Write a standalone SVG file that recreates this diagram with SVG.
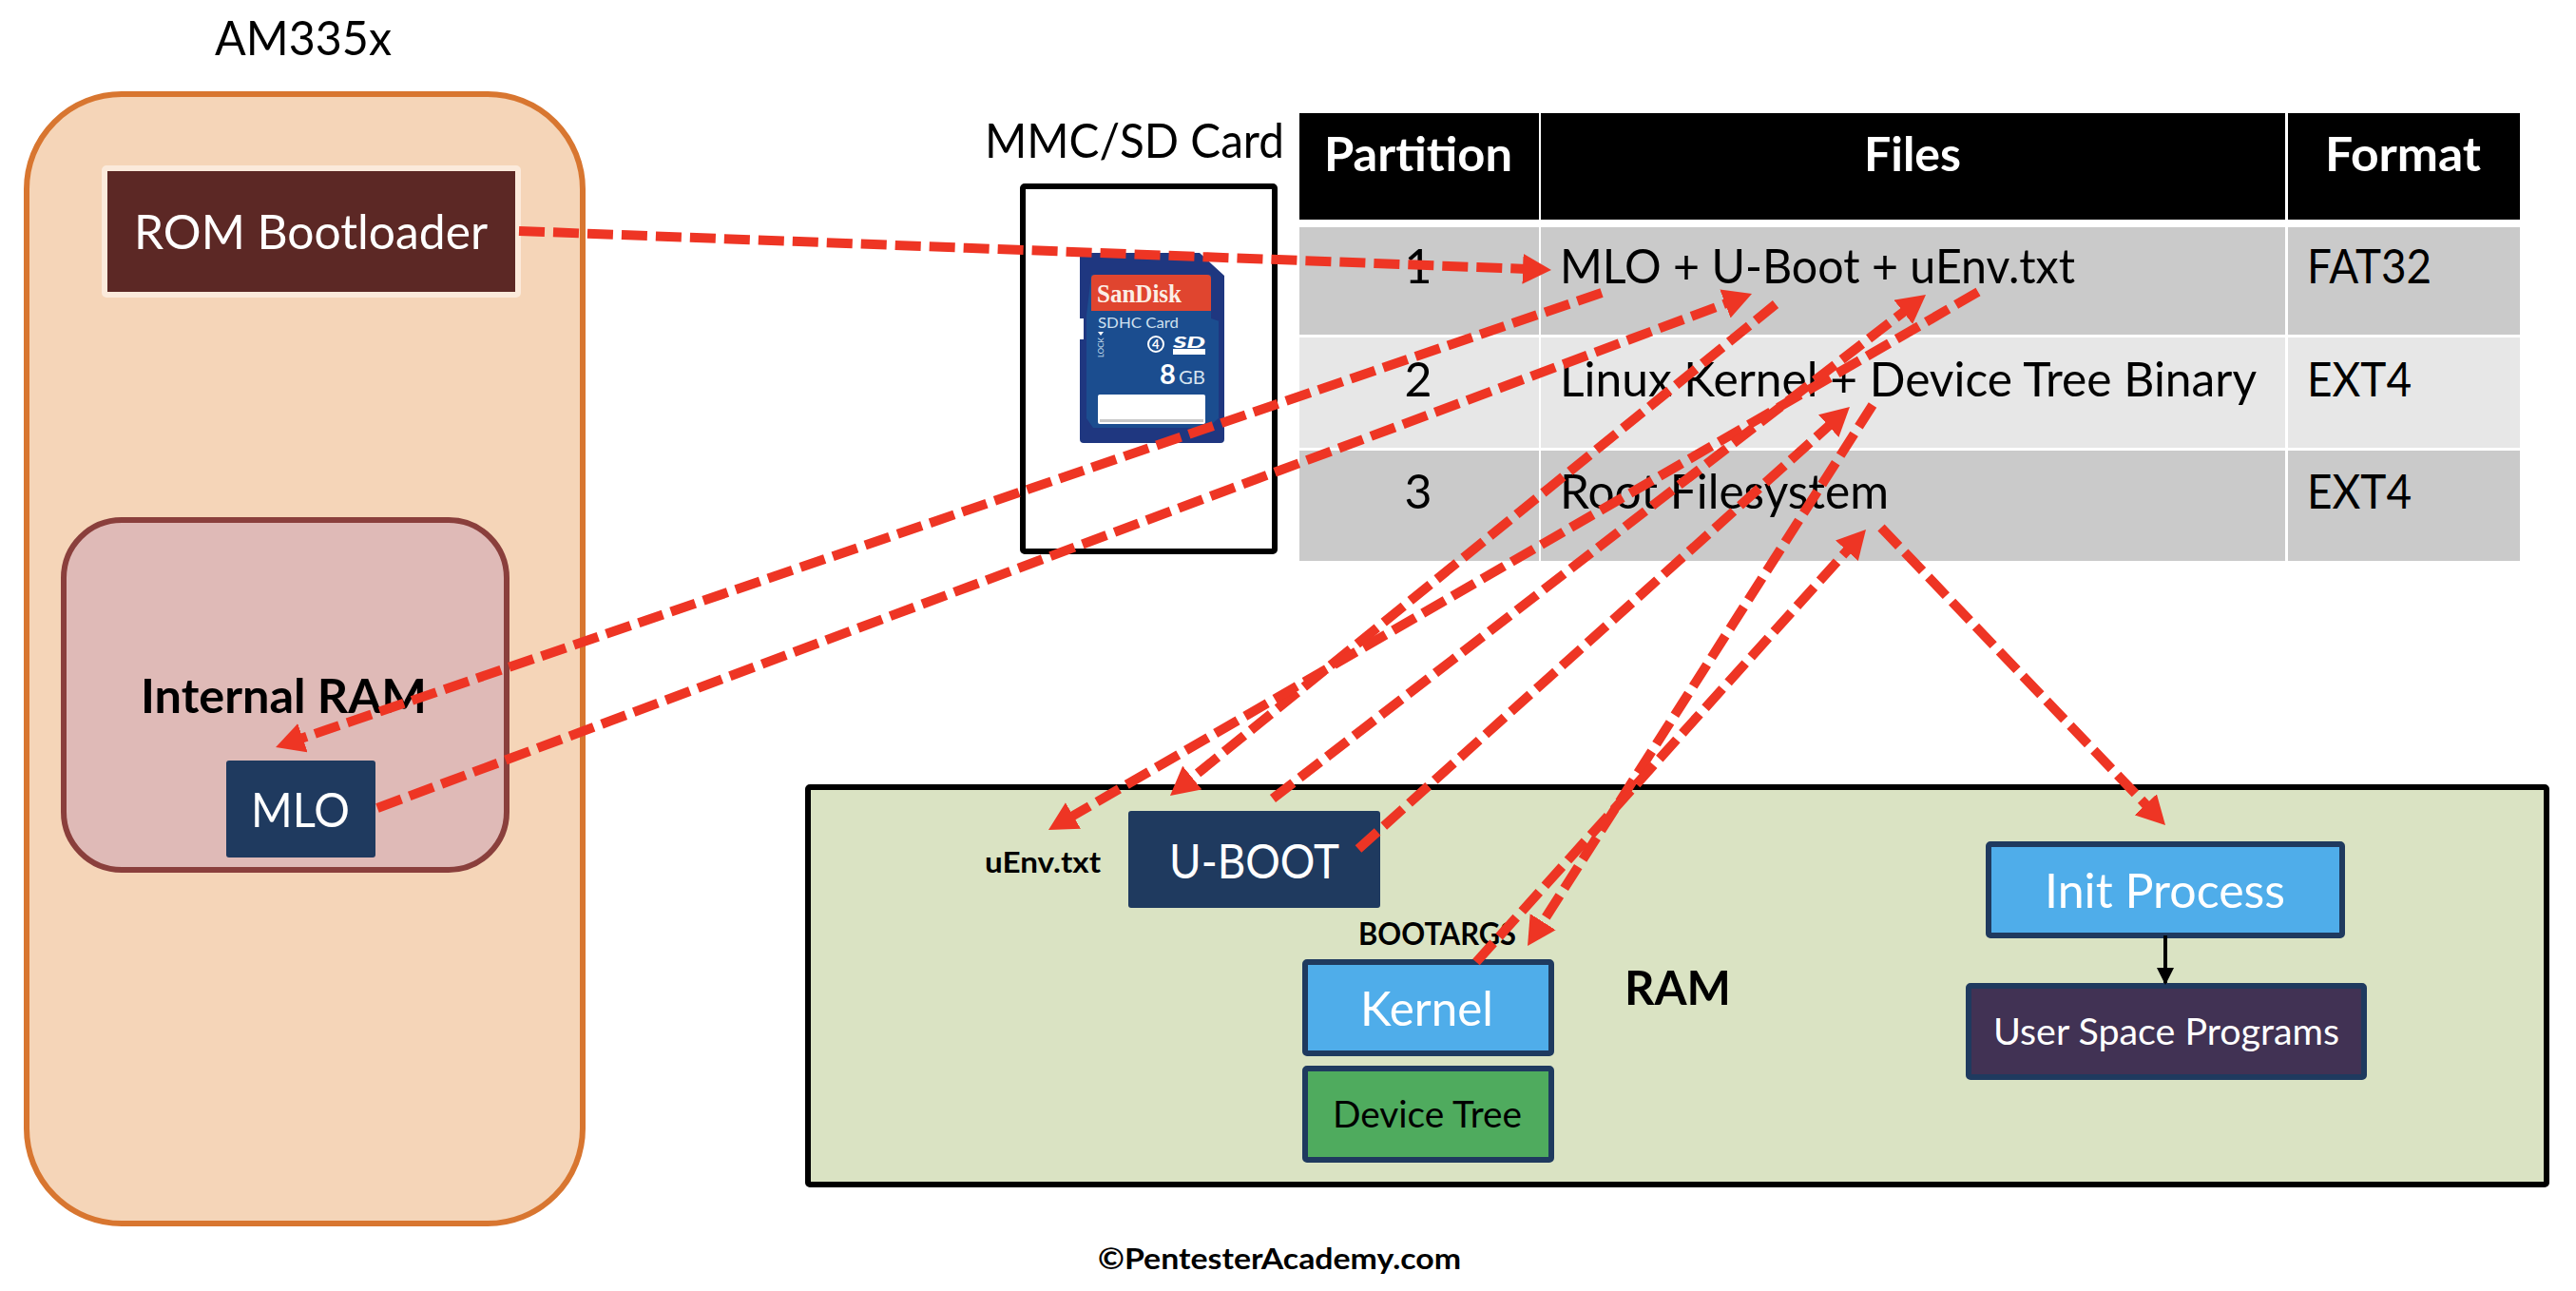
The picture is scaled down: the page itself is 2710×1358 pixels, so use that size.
<svg xmlns="http://www.w3.org/2000/svg" width="2710" height="1358" viewBox="0 0 2710 1358">
<style>
text{font-family:"Lato","Open Sans","Liberation Sans",sans-serif;font-size:50px;fill:#000}
.w{fill:#fff}
.b{font-weight:700}
.s37{font-size:38px}
.navy{fill:#1f3a5f}
.blue{fill:#4fadea;stroke:#1f3a5f;stroke-width:6}
.hd{fill:#000}
.r1{fill:#cacaca}
.r2{fill:#e7e7e7}
.red{fill:none;stroke:#ee3524;stroke-width:10;stroke-dasharray:27 9;marker-end:url(#ah)}
</style>
<defs>
<marker id="ah" markerUnits="userSpaceOnUse" markerWidth="30" markerHeight="32" viewBox="0 0 30 32" refX="10" refY="16" orient="auto"><path d="M0,0L30,16L0,32Z" fill="#ee3524"/></marker>
<marker id="bk" markerUnits="userSpaceOnUse" markerWidth="18" markerHeight="18" viewBox="0 0 18 18" refX="16" refY="9" orient="auto"><path d="M0,0L18,9L0,18Z" fill="#000"/></marker>
</defs>
<rect width="2710" height="1358" fill="#fff"/>

<g id="am335x">
<text x="226" y="58" textLength="186" lengthAdjust="spacingAndGlyphs">AM335x</text>
<rect x="28" y="99" width="585" height="1188" rx="100" ry="100" fill="#f5d5b8" stroke="#d87630" stroke-width="6"/>
</g>
<g id="rom-bootloader">
<rect x="110" y="177" width="435" height="133" rx="2" fill="#5c2825" stroke="#fbeadb" stroke-width="6"/>
<text class="w" x="141" y="262" textLength="372" lengthAdjust="spacingAndGlyphs">ROM Bootloader</text>
</g>
<g id="internal-ram">
<rect x="67" y="547" width="466" height="368" rx="61" ry="61" fill="#dfbab7" stroke="#8a3f3c" stroke-width="6"/>
<text class="b" x="148" y="750" textLength="301" lengthAdjust="spacingAndGlyphs">Internal RAM</text>
</g>
<g id="mlo">
<rect class="navy" x="238" y="800" width="157" height="102" rx="3"/>
<text class="w" x="264" y="870" textLength="104" lengthAdjust="spacingAndGlyphs">MLO</text>
</g>

<g id="sd-card">
<text x="1036" y="166" textLength="315" lengthAdjust="spacingAndGlyphs">MMC/SD Card</text>
<rect x="1076" y="196" width="265" height="384" rx="2" fill="#fff" stroke="#000" stroke-width="6"/>
<path d="M1136,268Q1136,266 1138,266H1262L1288,290V462Q1288,466 1284,466H1140Q1136,466 1136,462V357H1140V335H1136Z" fill="#1f3780"/>
<path d="M1148,289H1274V335L1283,338H1282V440L1270,450H1150L1143,440V332Z" fill="#1b4d8f"/>
<path d="M1148,293Q1148,289 1152,289H1270Q1274,289 1274,293V327H1148Z" fill="#e0452f"/>
<text x="1154" y="318" textLength="89" lengthAdjust="spacingAndGlyphs" style="font-family:'Liberation Serif',serif;font-size:27px;font-weight:700;fill:#fbeee6">SanDisk</text>
<text x="1155" y="345" textLength="85" lengthAdjust="spacingAndGlyphs" style="font-size:16px;fill:#cfe0ef">SDHC Card</text>
<path d="M1155,349H1161L1158,353Z" fill="#fff"/>
<text transform="translate(1161,376) rotate(-90)" style="font-size:8px;fill:#cfe0ef">LOCK</text>
<circle cx="1216" cy="362" r="8" fill="none" stroke="#fff" stroke-width="2"/>
<text x="1212" y="367" style="font-size:13px;font-weight:700;fill:#fff">4</text>
<text x="1234" y="366" textLength="34" lengthAdjust="spacingAndGlyphs" style="font-size:17px;font-weight:900;font-style:italic;fill:#fff">SD</text>
<rect x="1234" y="367" width="34" height="6" fill="#fff"/>
<text x="1220" y="404" style="font-size:29px;font-weight:700;fill:#fff">8</text>
<text x="1240" y="404" textLength="28" lengthAdjust="spacingAndGlyphs" style="font-size:20px;fill:#d5e3ef">GB</text>
<rect x="1155" y="415" width="113" height="31" rx="2" fill="#fff"/>
<rect x="1157" y="441" width="109" height="3" fill="#c8c8c8"/>
</g>

<g id="partition-table">
<rect class="hd" x="1367" y="119" width="252" height="112"/>
<rect class="hd" x="1621" y="119" width="783" height="112"/>
<rect class="hd" x="2407" y="119" width="244" height="112"/>
<rect class="r1" x="1367" y="239" width="252" height="113"/>
<rect class="r1" x="1621" y="239" width="783" height="113"/>
<rect class="r1" x="2407" y="239" width="244" height="113"/>
<rect class="r2" x="1367" y="355" width="252" height="116"/>
<rect class="r2" x="1621" y="355" width="783" height="116"/>
<rect class="r2" x="2407" y="355" width="244" height="116"/>
<rect class="r1" x="1367" y="474" width="252" height="116"/>
<rect class="r1" x="1621" y="474" width="783" height="116"/>
<rect class="r1" x="2407" y="474" width="244" height="116"/>
<text class="w b" x="1393" y="180" textLength="198" lengthAdjust="spacingAndGlyphs">Partition</text>
<text class="w b" x="1961" y="180" textLength="102" lengthAdjust="spacingAndGlyphs">Files</text>
<text class="w b" x="2446" y="180" textLength="164" lengthAdjust="spacingAndGlyphs">Format</text>
<text x="1492" y="298" text-anchor="middle">1</text>
<text x="1492" y="417" text-anchor="middle">2</text>
<text x="1492" y="535" text-anchor="middle">3</text>
<text x="1641" y="298" textLength="542" lengthAdjust="spacingAndGlyphs">MLO + U-Boot + uEnv.txt</text>
<text x="1641" y="417" textLength="733" lengthAdjust="spacingAndGlyphs">Linux Kernel + Device Tree Binary</text>
<text x="1641" y="535" textLength="346" lengthAdjust="spacingAndGlyphs">Root Filesystem</text>
<text x="2427" y="298" textLength="131" lengthAdjust="spacingAndGlyphs">FAT32</text>
<text x="2427" y="417" textLength="110" lengthAdjust="spacingAndGlyphs">EXT4</text>
<text x="2427" y="535" textLength="110" lengthAdjust="spacingAndGlyphs">EXT4</text>
</g>

<g id="ram">
<rect x="850" y="828" width="1829" height="418" rx="2" fill="#dae3c3" stroke="#000" stroke-width="6"/>
<text class="b" x="1709" y="1057" textLength="112" lengthAdjust="spacingAndGlyphs">RAM</text>
</g>
<g id="uenv"><text class="b" x="1036" y="918" textLength="122" lengthAdjust="spacingAndGlyphs" style="font-size:30px">uEnv.txt</text></g>
<g id="u-boot">
<rect class="navy" x="1187" y="853" width="265" height="102" rx="3"/>
<text class="w" x="1230" y="924" textLength="179" lengthAdjust="spacingAndGlyphs">U-BOOT</text>
</g>
<g id="bootargs"><text class="b" x="1429" y="994" textLength="166" lengthAdjust="spacingAndGlyphs" style="font-size:32px">BOOTARGS</text></g>
<g id="kernel">
<rect class="blue" x="1373" y="1012" width="259" height="96" rx="2"/>
<text class="w" x="1431" y="1079" textLength="140" lengthAdjust="spacingAndGlyphs">Kernel</text>
</g>
<g id="device-tree">
<rect x="1373" y="1124" width="259" height="96" rx="2" fill="#4fab5e" stroke="#1f3a5f" stroke-width="6"/>
<text class="s37" x="1402" y="1186" textLength="199" lengthAdjust="spacingAndGlyphs">Device Tree</text>
</g>
<g id="init-process">
<rect class="blue" x="2092" y="888" width="372" height="96" rx="2"/>
<text class="w" x="2151" y="955" textLength="253" lengthAdjust="spacingAndGlyphs">Init Process</text>
</g>
<g id="user-space">
<rect x="2071" y="1037" width="416" height="96" rx="2" fill="#413254" stroke="#1f3a5f" stroke-width="6"/>
<text class="w s37" x="2097" y="1099" textLength="364" lengthAdjust="spacingAndGlyphs">User Space Programs</text>
</g>
<g id="credit"><text class="b" x="1155" y="1335" textLength="382" lengthAdjust="spacingAndGlyphs" style="font-size:31px">©PentesterAcademy.com</text></g>

<g id="connectors">
<path class="red" d="M546,243L1612,283.2"/>
<path class="red" d="M1685,308L309,779.5"/>
<path class="red" d="M397,850L1824.3,316"/>
<path class="red" d="M1868,320L1246.5,824.4"/>
<path class="red" d="M2081,307L1120.3,863"/>
<path class="red" d="M1339,840L2010.2,322.2"/>
<path class="red" d="M1429,893L1931.1,441.4"/>
<path class="red" d="M1970,426L1617.8,978.1"/>
<path class="red" d="M1553,1012L1949.6,571.9"/>
<path class="red" d="M1979,555L2264.2,853.5"/>
<path d="M2278,984V1034" fill="none" stroke="#000" stroke-width="4" marker-end="url(#bk)"/>
</g>
</svg>
